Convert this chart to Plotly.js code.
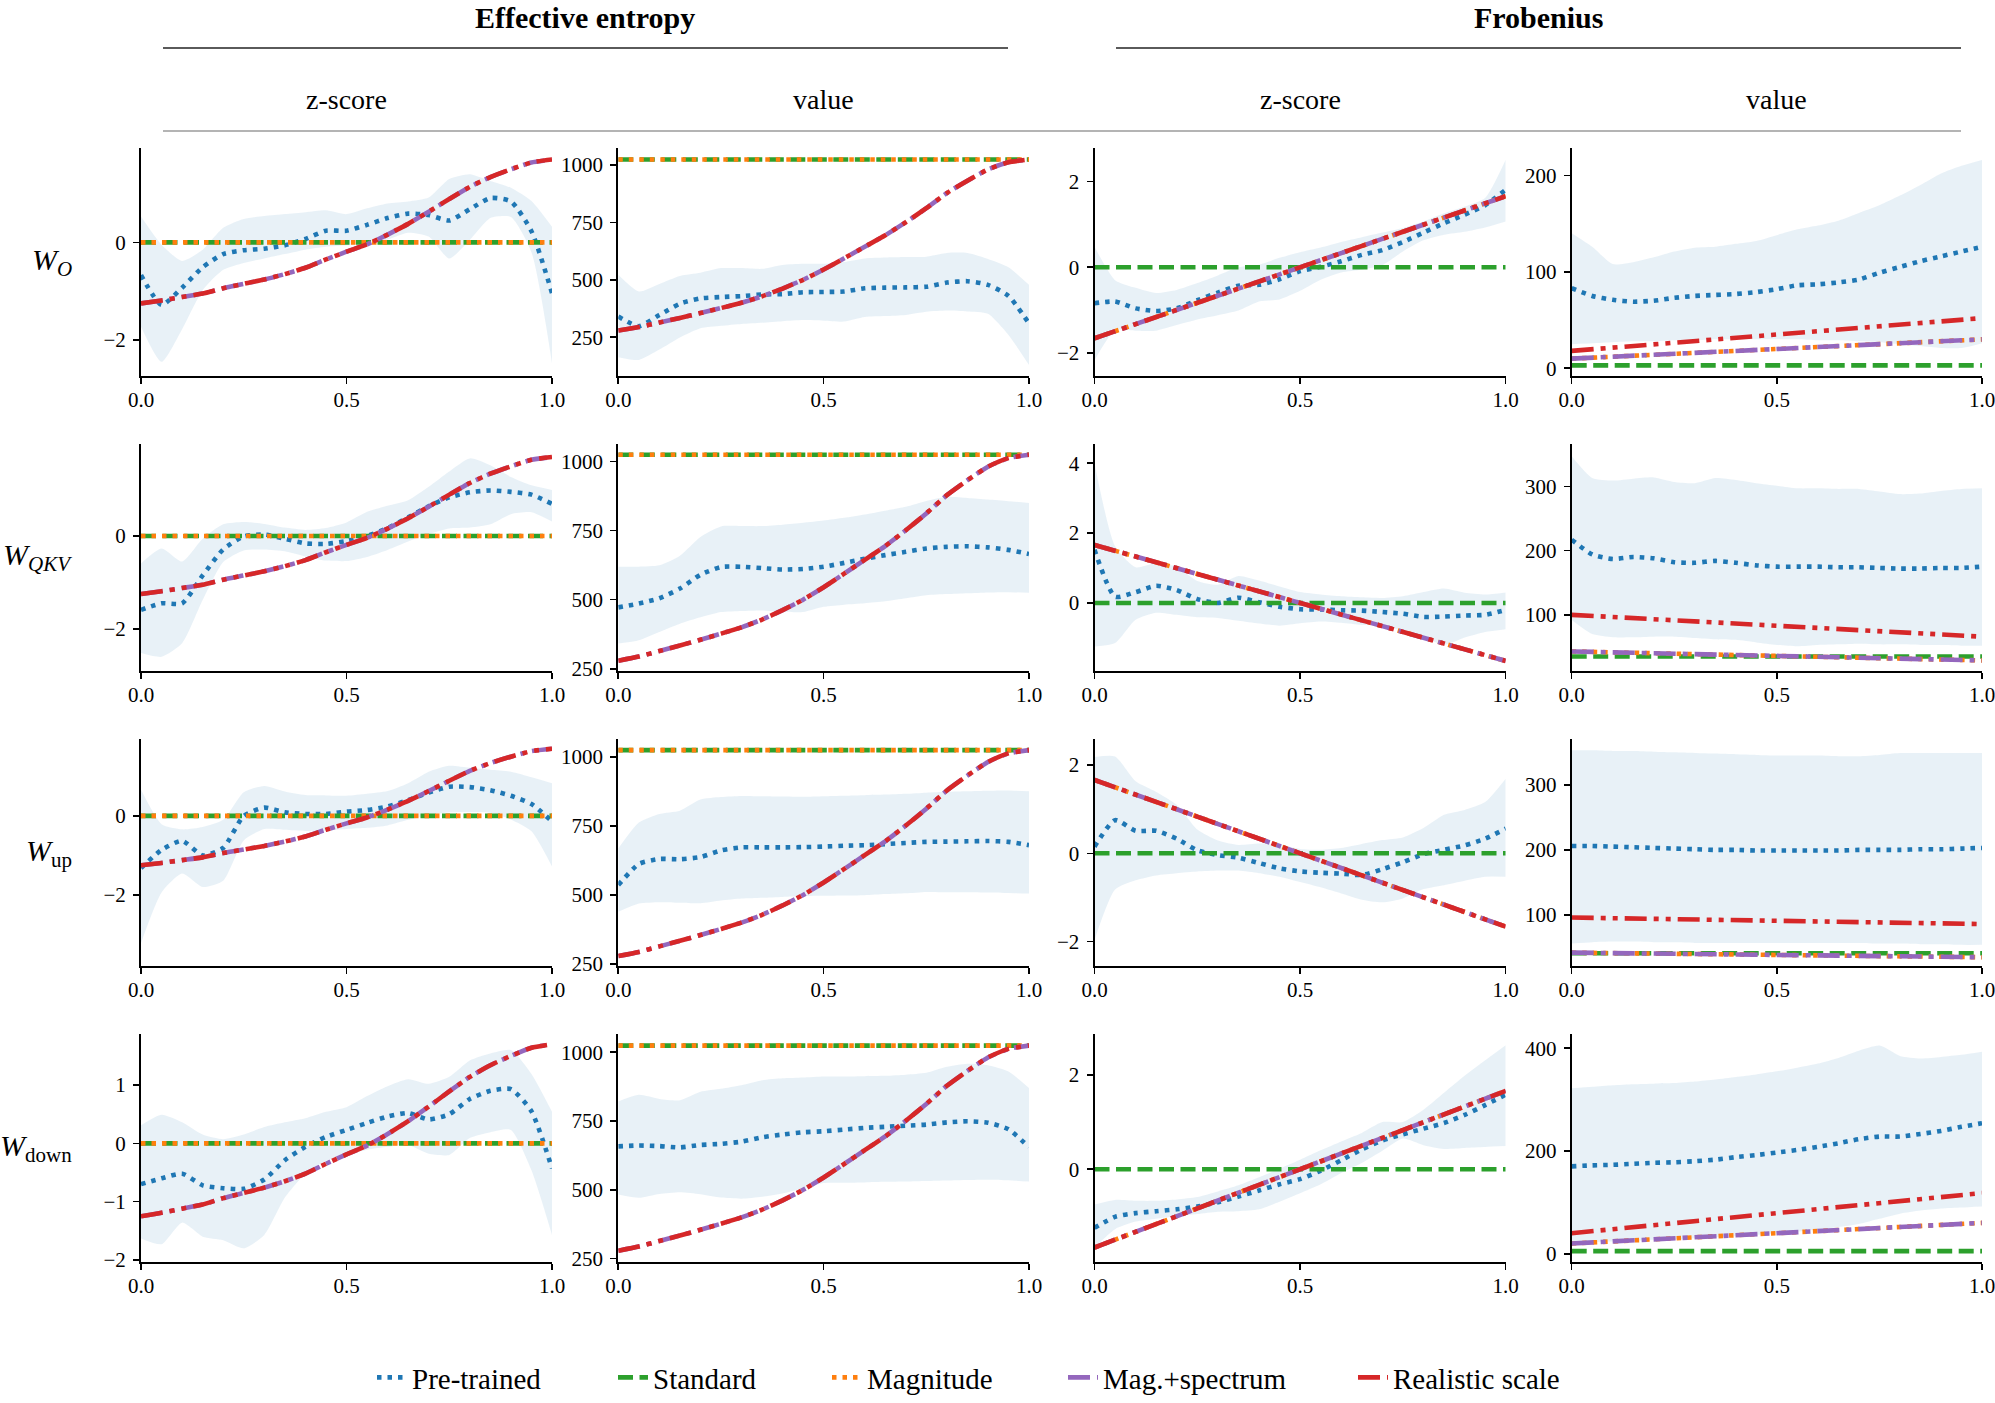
<!DOCTYPE html>
<html><head><meta charset="utf-8">
<script src="https://cdn.plot.ly/plotly-3.0.1.min.js"></script>
<style>html,body{margin:0;padding:0;background:#fff}</style>
</head><body><div id="chart" style="width:1995px;height:1403px"></div>
<script>
// ---------------- DATA ----------------
const xGrid = [0,0.05,0.1,0.15,0.2,0.25,0.3,0.35,0.4,0.45,0.5,0.55,0.6,0.65,0.7,0.75,0.8,0.85,0.9,0.95,1];
const xEnds = [0,1];
const xTickVals = [0,0.5,1];
const xTickText = ['0.0','0.5','1.0'];

const seriesNames = ['Pre-trained','Standard','Magnitude','Mag.+spectrum','Realistic scale'];
const groupTitles = ['Effective entropy','Frobenius'];
const colTitles = ['z-score','value','z-score','value'];
const rowLabels = ['<i>W<sub>O</sub></i>','<i>W<sub>QKV</sub></i>','<i>W</i><sub>up</sub>','<i>W</i><sub>down</sub>'];

// shared synthetic-init curves
const entZ_real = [-1.25,-1.19,-1.12,-1.05,-0.94,-0.85,-0.76,-0.65,-0.52,-0.35,-0.19,-0.04,0.16,0.38,0.63,0.89,1.14,1.34,1.50,1.64,1.70];
const entV_real = [279,294,314,334,355,377,400,428,462,500,545,594,644,694,751,812,878,932,981,1012,1024];
const entZ_std = [0,0];
const entV_std = [1024,1024];
const froZ_std = [0,0];
const froZ_rise = [-1.66,1.66];
const froZ_fall = [1.66,-1.66];

// W_O
const entZ_O_mean = [-0.67,-1.28,-0.93,-0.51,-0.24,-0.16,-0.13,-0.06,0.07,0.24,0.24,0.36,0.50,0.59,0.56,0.45,0.68,0.91,0.84,0.23,-1.04];
const entZ_O_hi = [0.53,-0.05,-0.38,-0.15,0.30,0.48,0.54,0.58,0.62,0.66,0.58,0.70,0.80,0.84,0.92,1.30,1.40,1.26,1.12,0.85,0.32];
const entZ_O_lo = [-1.73,-2.45,-1.78,-0.98,-0.56,-0.42,-0.33,-0.24,-0.15,-0.09,-0.06,-0.02,0.06,0.20,0.12,-0.33,0.05,0.50,0.52,-0.20,-2.48];
const entV_O_mean = [340,298,347,396,419,425,429,436,438,446,447,449,463,466,467,470,488,494,478,430,310];
const entV_O_hi = [522,449,482,517,531,551,551,548,565,570,570,578,593,597,599,601,617,617,591,555,478];
const entV_O_lo = [163,151,196,249,289,300,308,313,320,325,322,318,338,342,347,361,366,362,352,260,129];
const froZ_O_mean = [-0.84,-0.80,-0.96,-1.02,-0.96,-0.77,-0.59,-0.43,-0.41,-0.28,-0.09,0.01,0.14,0.29,0.40,0.59,0.81,1.03,1.23,1.45,1.81];
const froZ_O_hi = [0.48,-0.30,-0.48,-0.60,-0.53,-0.37,-0.19,0.0,0.06,0.22,0.35,0.46,0.59,0.70,0.81,0.92,1.07,1.26,1.42,1.62,2.51];
const froZ_O_lo = [-2.17,-1.47,-1.48,-1.48,-1.35,-1.22,-1.12,-1.01,-0.80,-0.75,-0.55,-0.29,-0.12,-0.05,0.05,0.37,0.63,0.76,0.83,0.93,1.07];
const froV_O_mean = [83,75,71,69,70,73,75,76,77,79,82,86,87,89,92,99,105,111,116,121,126];
const froV_O_hi = [140,126,108,110,115,121,125,126,129,132,138,144,148,153,161,169,179,190,202,210,216];
const froV_O_lo = [25,26,27,28,28,29,29,30,30,30,30,30,29,29,28,27,25,23,21,21,26];
const froV_O_std = [3,3];
const froV_O_mag = [10,30];
const froV_O_real = [18,52];

// W_QKV
const entZ_QKV_mean = [-1.59,-1.45,-1.45,-0.85,-0.29,-0.01,0.03,-0.06,-0.16,-0.17,-0.11,0.0,0.17,0.40,0.64,0.83,0.94,0.98,0.95,0.89,0.69];
const entZ_QKV_hi = [-0.59,-0.27,-0.55,-0.06,0.25,0.30,0.26,0.18,0.13,0.17,0.29,0.52,0.65,0.77,1.06,1.39,1.67,1.52,1.27,1.09,0.99];
const entZ_QKV_lo = [-2.52,-2.60,-2.31,-1.38,-0.56,-0.31,-0.29,-0.33,-0.44,-0.53,-0.54,-0.45,-0.30,-0.12,0.04,0.16,0.18,0.25,0.47,0.51,0.31];
const entV_QKV_mean = [472,486,505,540,590,618,619,614,609,611,619,633,648,661,673,685,691,693,689,680,665];
const entV_QKV_hi = [619,619,624,659,727,765,766,766,771,778,786,796,808,822,836,857,872,868,862,856,850];
const entV_QKV_lo = [341,353,383,413,436,455,459,461,456,455,474,482,487,494,505,516,520,523,526,527,525];
const froZ_QKV_mean = [1.52,0.18,0.31,0.49,0.37,0.11,0.0,0.15,0.02,-0.11,-0.18,-0.19,-0.21,-0.22,-0.26,-0.31,-0.40,-0.39,-0.36,-0.34,-0.20];
const froZ_QKV_hi = [4.0,1.62,1.02,1.14,1.03,0.63,0.52,0.77,0.64,0.47,0.31,0.24,0.19,0.16,0.14,0.19,0.31,0.41,0.29,0.24,0.30];
const froZ_QKV_lo = [-1.25,-1.15,-0.48,-0.28,-0.34,-0.41,-0.43,-0.51,-0.59,-0.65,-0.58,-0.53,-0.57,-0.63,-0.64,-0.80,-0.98,-1.20,-0.99,-0.83,-0.75];
const froV_QKV_mean = [217,194,187,190,188,182,181,184,181,177,175,175,175,174,174,173,172,172,173,173,175];
const froV_QKV_hi = [347,313,309,312,314,307,305,313,310,305,301,297,297,296,296,292,288,289,293,296,297];
const froV_QKV_lo = [92,70,65,65,66,66,64,62,61,57,53,51,53,54,55,54,54,53,53,52,52];
const froV_QKV_std = [35,35];
const froV_QKV_mag = [43,29];
const froV_QKV_real = [100,66];

// W_up
const entZ_up_mean = [-1.32,-0.86,-0.63,-1.00,-0.81,0.0,0.21,0.09,0.05,0.05,0.11,0.15,0.24,0.40,0.59,0.74,0.73,0.65,0.51,0.30,-0.14];
const entZ_up_hi = [0.66,-0.21,-0.34,-0.28,-0.10,0.60,0.76,0.62,0.53,0.52,0.51,0.56,0.63,0.83,1.12,1.27,1.22,1.17,1.12,0.98,0.83];
const entZ_up_lo = [-3.22,-1.94,-1.46,-1.80,-1.64,-0.62,-0.33,-0.35,-0.38,-0.37,-0.33,-0.30,-0.24,-0.10,0.01,0.09,0.10,0.08,-0.09,-0.39,-1.28];
const entV_up_mean = [536,612,630,629,637,661,672,672,672,673,675,678,680,684,688,692,693,694,695,692,680];
const entV_up_hi = [668,762,793,805,845,854,858,857,856,855,857,859,861,863,866,870,873,875,877,878,875];
const entV_up_lo = [439,469,474,472,470,480,487,490,493,496,497,498,499,503,506,511,510,510,509,507,505];
const froZ_up_mean = [0.15,0.75,0.51,0.51,0.33,0.07,-0.04,-0.10,-0.22,-0.34,-0.41,-0.44,-0.46,-0.49,-0.36,-0.20,-0.02,0.08,0.18,0.33,0.56];
const froZ_up_hi = [2.18,2.19,1.63,1.39,1.10,0.54,0.29,0.19,0.22,0.20,0.10,0.08,0.12,0.21,0.30,0.36,0.57,0.87,0.98,1.16,1.69];
const froZ_up_lo = [-1.96,-0.82,-0.61,-0.50,-0.45,-0.41,-0.39,-0.39,-0.45,-0.53,-0.65,-0.77,-0.91,-1.05,-1.11,-1.02,-0.81,-0.72,-0.62,-0.53,-0.53];
const froV_up_mean = [206,206,205,204,203,202,201,200,200,199,199,199,199,199,200,200,200,201,201,202,203];
const froV_up_hi = [353,353,352,352,351,350,349,348,347,346,345,345,345,344,344,346,349,349,349,349,349];
const froV_up_lo = [56,58,59,59,58,58,57,57,57,57,57,57,57,57,57,56,56,55,55,54,54];
const froV_up_std = [41,41];
const froV_up_mag = [42,35];
const froV_up_real = [96,86];

// W_down
const entZ_down_mean = [-0.70,-0.60,-0.52,-0.72,-0.77,-0.78,-0.62,-0.29,-0.06,0.11,0.23,0.35,0.46,0.52,0.41,0.50,0.76,0.90,0.93,0.55,-0.43];
const entZ_down_hi = [0.31,0.49,0.36,0.15,0.07,0.15,0.28,0.36,0.43,0.54,0.62,0.81,0.98,1.10,1.02,1.14,1.42,1.54,1.60,1.19,0.54];
const entZ_down_lo = [-1.63,-1.73,-1.36,-1.60,-1.66,-1.80,-1.57,-0.93,-0.52,-0.30,-0.20,-0.11,-0.06,-0.03,-0.18,-0.20,0.09,0.19,0.23,-0.46,-1.57];
const entV_down_mean = [658,661,659,654,663,667,675,691,701,709,713,719,725,729,733,737,745,749,744,720,655];
const entV_down_hi = [821,845,830,825,856,867,880,898,905,908,912,912,913,914,918,925,947,958,953,930,870];
const entV_down_lo = [483,471,485,491,484,472,468,475,487,505,525,526,527,529,530,532,534,536,537,535,530];
const froZ_down_mean = [-1.24,-1.01,-0.93,-0.89,-0.85,-0.79,-0.70,-0.58,-0.45,-0.32,-0.21,-0.03,0.19,0.42,0.61,0.74,0.86,0.98,1.15,1.36,1.58];
const froZ_down_hi = [-0.75,-0.65,-0.67,-0.67,-0.64,-0.59,-0.47,-0.34,-0.17,0.01,0.20,0.40,0.59,0.77,1.00,1.00,1.26,1.62,1.98,2.31,2.63];
const froZ_down_lo = [-1.66,-1.27,-1.11,-1.05,-0.99,-0.95,-0.90,-0.89,-0.85,-0.69,-0.51,-0.32,-0.08,0.13,0.39,0.65,0.51,0.43,0.45,0.47,0.49];
const froV_down_mean = [170,172,173,175,177,178,180,183,188,192,197,202,208,215,223,228,228,233,239,247,254];
const froV_down_hi = [322,325,328,330,331,332,335,339,344,349,355,362,370,381,395,405,385,380,383,387,393];
const froV_down_lo = [22,23,24,25,27,28,30,32,34,37,40,43,47,52,58,68,78,84,88,90,92];
const froV_down_std = [5,5];
const froV_down_mag = [20,60];
const froV_down_real = [40,118];

// y tick values
const yt_entZ_O = [-2,0], yt_entV = [250,500,750,1000], yt_froZ_O = [-2,0,2], yt_froV_O = [0,100,200];
const yt_entZ_QKV = [-2,0], yt_froZ_QKV = [0,2,4], yt_froV_QKV = [100,200,300];
const yt_entZ_up = [-2,0], yt_froZ_up = [-2,0,2], yt_froV_up = [100,200,300];
const yt_entZ_down = [-2,-1,0,1], yt_froZ_down = [0,2], yt_froV_down = [0,200,400];

// ---------------- LAYOUT CONSTANTS ----------------
const W = 1995, H = 1403;
const FONT = 'Liberation Serif, Times New Roman, serif';
const colPx = [[141,552],[618.3,1029],[1094.5,1505.7],[1571.7,1982]];
const rowPx = [[148.3,376],[444,670.7],[739.3,966],[1034.3,1261.7]];
const yRanges = [
  [[-2.74,1.93],[81,1073],[-2.54,2.78],[-8,228]],
  [[-2.90,1.98],[243,1063],[-1.94,4.55],[13,366]],
  [[-3.80,1.94],[243,1063],[-2.55,2.58],[21.5,370]],
  [[-2.03,1.87],[239,1065],[-1.96,2.86],[-15.5,427]]
];
const LW = 4.6;
const styles = {
  pre:  {color:'#1f77b4', width:LW, dash:'4.5px,6px'},
  std:  {color:'#2ca02c', width:LW, dash:'15px,6.5px'},
  mag:  {color:'#ff7f0e', width:LW, dash:'4.5px,6px'},
  ms:   {color:'#9467bd', width:LW, dash:'22px,7px,5px,7px'},
  real: {color:'#d62728', width:LW, dash:'22px,7px,5px,7px,5px,7px'}
};

// table built from the named arrays
const P = [
  [
    {m:entZ_O_mean,lo:entZ_O_lo,hi:entZ_O_hi,std:[xEnds,entZ_std],mag:[xEnds,entZ_std],ms:[xGrid,entZ_real],re:[xGrid,entZ_real],yt:yt_entZ_O},
    {m:entV_O_mean,lo:entV_O_lo,hi:entV_O_hi,std:[xEnds,entV_std],mag:[xEnds,entV_std],ms:[xGrid,entV_real],re:[xGrid,entV_real],yt:yt_entV},
    {m:froZ_O_mean,lo:froZ_O_lo,hi:froZ_O_hi,std:[xEnds,froZ_std],mag:[xEnds,froZ_rise],ms:[xEnds,froZ_rise],re:[xEnds,froZ_rise],yt:yt_froZ_O},
    {m:froV_O_mean,lo:froV_O_lo,hi:froV_O_hi,std:[xEnds,froV_O_std],mag:[xEnds,froV_O_mag],ms:[xEnds,froV_O_mag],re:[xEnds,froV_O_real],yt:yt_froV_O}
  ],
  [
    {m:entZ_QKV_mean,lo:entZ_QKV_lo,hi:entZ_QKV_hi,std:[xEnds,entZ_std],mag:[xEnds,entZ_std],ms:[xGrid,entZ_real],re:[xGrid,entZ_real],yt:yt_entZ_QKV},
    {m:entV_QKV_mean,lo:entV_QKV_lo,hi:entV_QKV_hi,std:[xEnds,entV_std],mag:[xEnds,entV_std],ms:[xGrid,entV_real],re:[xGrid,entV_real],yt:yt_entV},
    {m:froZ_QKV_mean,lo:froZ_QKV_lo,hi:froZ_QKV_hi,std:[xEnds,froZ_std],mag:[xEnds,froZ_fall],ms:[xEnds,froZ_fall],re:[xEnds,froZ_fall],yt:yt_froZ_QKV},
    {m:froV_QKV_mean,lo:froV_QKV_lo,hi:froV_QKV_hi,std:[xEnds,froV_QKV_std],mag:[xEnds,froV_QKV_mag],ms:[xEnds,froV_QKV_mag],re:[xEnds,froV_QKV_real],yt:yt_froV_QKV}
  ],
  [
    {m:entZ_up_mean,lo:entZ_up_lo,hi:entZ_up_hi,std:[xEnds,entZ_std],mag:[xEnds,entZ_std],ms:[xGrid,entZ_real],re:[xGrid,entZ_real],yt:yt_entZ_up},
    {m:entV_up_mean,lo:entV_up_lo,hi:entV_up_hi,std:[xEnds,entV_std],mag:[xEnds,entV_std],ms:[xGrid,entV_real],re:[xGrid,entV_real],yt:yt_entV},
    {m:froZ_up_mean,lo:froZ_up_lo,hi:froZ_up_hi,std:[xEnds,froZ_std],mag:[xEnds,froZ_fall],ms:[xEnds,froZ_fall],re:[xEnds,froZ_fall],yt:yt_froZ_up},
    {m:froV_up_mean,lo:froV_up_lo,hi:froV_up_hi,std:[xEnds,froV_up_std],mag:[xEnds,froV_up_mag],ms:[xEnds,froV_up_mag],re:[xEnds,froV_up_real],yt:yt_froV_up}
  ],
  [
    {m:entZ_down_mean,lo:entZ_down_lo,hi:entZ_down_hi,std:[xEnds,entZ_std],mag:[xEnds,entZ_std],ms:[xGrid,entZ_real],re:[xGrid,entZ_real],yt:yt_entZ_down},
    {m:entV_down_mean,lo:entV_down_lo,hi:entV_down_hi,std:[xEnds,entV_std],mag:[xEnds,entV_std],ms:[xGrid,entV_real],re:[xGrid,entV_real],yt:yt_entV},
    {m:froZ_down_mean,lo:froZ_down_lo,hi:froZ_down_hi,std:[xEnds,froZ_std],mag:[xEnds,froZ_rise],ms:[xEnds,froZ_rise],re:[xEnds,froZ_rise],yt:yt_froZ_down},
    {m:froV_down_mean,lo:froV_down_lo,hi:froV_down_hi,std:[xEnds,froV_down_std],mag:[xEnds,froV_down_mag],ms:[xEnds,froV_down_mag],re:[xEnds,froV_down_real],yt:yt_froV_down}
  ]
];

const px = v => v / W;
const py = v => 1 - v / H;

const traces = [];
const layout = {
  width: W, height: H, autosize: false,
  margin: {l:0, r:0, t:0, b:0},
  paper_bgcolor: '#fff', plot_bgcolor: 'rgba(0,0,0,0)',
  font: {family: FONT, color: '#000', size: 21},
  hovermode: false,
  annotations: [], shapes: []
};

for (let r = 0; r < 4; r++) {
  for (let c = 0; c < 4; c++) {
    const k = r * 4 + c + 1;
    const xa = k === 1 ? 'x' : 'x' + k;
    const ya = k === 1 ? 'y' : 'y' + k;
    const d = P[r][c];
    const first = (k === 1);
    const base = {type:'scatter', mode:'lines', xaxis:xa, yaxis:ya, hoverinfo:'skip'};
    traces.push(Object.assign({}, base, {x:xGrid, y:d.lo, line:{width:0, shape:'spline', smoothing:0.6}, showlegend:false}));
    traces.push(Object.assign({}, base, {x:xGrid, y:d.hi, line:{width:0, shape:'spline', smoothing:0.6}, fill:'tonexty', fillcolor:'rgba(31,119,180,0.1)', showlegend:false}));
    traces.push(Object.assign({}, base, {x:xGrid, y:d.m, line:Object.assign({shape:'spline', smoothing:0.6}, styles.pre), name:seriesNames[0], showlegend:first, legend:'legend'}));
    traces.push(Object.assign({}, base, {x:d.std[0], y:d.std[1], line:styles.std, name:seriesNames[1], showlegend:first, legend:'legend2'}));
    traces.push(Object.assign({}, base, {x:d.mag[0], y:d.mag[1], line:Object.assign({shape:'spline', smoothing:0.5}, styles.mag), name:seriesNames[2], showlegend:first, legend:'legend3'}));
    traces.push(Object.assign({}, base, {x:d.ms[0], y:d.ms[1], line:Object.assign({shape:'spline', smoothing:0.5}, styles.ms), name:seriesNames[3], showlegend:first, legend:'legend4'}));
    traces.push(Object.assign({}, base, {x:d.re[0], y:d.re[1], line:Object.assign({shape:'spline', smoothing:0.5}, styles.real), name:seriesNames[4], showlegend:first, legend:'legend5'}));

    const xKey = k === 1 ? 'xaxis' : 'xaxis' + k;
    const yKey = k === 1 ? 'yaxis' : 'yaxis' + k;
    layout[xKey] = {
      domain:[px(colPx[c][0]), px(colPx[c][1])], anchor:ya, range:[0,1],
      tickmode:'array', tickvals:xTickVals, ticktext:xTickText,
      showline:true, linecolor:'#000', linewidth:2, mirror:false,
      ticks:'outside', ticklen:6, tickwidth:1.6, tickcolor:'#000',
      showgrid:false, zeroline:false, fixedrange:true, ticklabeloverflow:'allow',
      tickfont:{size:21, family:FONT, color:'#000'}, ticklabelstandoff:-2
    };
    layout[yKey] = {
      domain:[py(rowPx[r][1]), py(rowPx[r][0])], anchor:xa, range:yRanges[r][c],
      tickmode:'array', tickvals:d.yt,
      showline:true, linecolor:'#000', linewidth:2, mirror:false,
      ticks:'outside', ticklen:6, tickwidth:1.6, tickcolor:'#000',
      showgrid:false, zeroline:false, fixedrange:true, ticklabeloverflow:'allow',
      tickfont:{size:21, family:FONT, color:'#000'}, ticklabelstandoff:3
    };
  }
  layout.annotations.push({
    text: rowLabels[r], xref:'paper', yref:'paper', x:px(74), y:py((rowPx[r][0]+rowPx[r][1])/2),
    xanchor:'right', yanchor:'middle', showarrow:false, font:{size:30, family:FONT, color:'#000'}
  });
}

// group titles & column titles
const groupCenters = [(colPx[0][0]+colPx[1][1])/2, (colPx[2][0]+colPx[3][1])/2];
groupTitles.forEach((t,i) => layout.annotations.push({
  text:'<b>'+t+'</b>', xref:'paper', yref:'paper', x:px(groupCenters[i]), y:1,
  xanchor:'center', yanchor:'top', showarrow:false, borderpad:0, font:{size:30, family:FONT, color:'#000'}
}));
colTitles.forEach((t,i) => layout.annotations.push({
  text:t, xref:'paper', yref:'paper', x:px((colPx[i][0]+colPx[i][1])/2), y:py(99),
  xanchor:'center', yanchor:'middle', showarrow:false, font:{size:28, family:FONT, color:'#000'}
}));
layout.shapes.push({type:'line', xref:'paper', yref:'paper', x0:px(163), x1:px(1008), y0:py(48), y1:py(48), line:{color:'#5a5a5a', width:2}});
layout.shapes.push({type:'line', xref:'paper', yref:'paper', x0:px(1116), x1:px(1961), y0:py(48), y1:py(48), line:{color:'#5a5a5a', width:2}});
layout.shapes.push({type:'line', xref:'paper', yref:'paper', x0:px(163), x1:px(1961), y0:py(131), y1:py(131), line:{color:'#b4b4b4', width:2}});

// legends (one per entry, to place each entry like the reference)
const legX = [372, 613, 827, 1063, 1353];
['legend','legend2','legend3','legend4','legend5'].forEach((name,i) => {
  layout[name] = {
    x:px(legX[i]), y:0, xanchor:'left', yanchor:'bottom', orientation:'h',
    font:{size:29, family:FONT, color:'#000'}, bgcolor:'rgba(0,0,0,0)', borderwidth:0
  };
});

Plotly.newPlot('chart', traces, layout, {displayModeBar:false, staticPlot:true});
</script></body></html>
